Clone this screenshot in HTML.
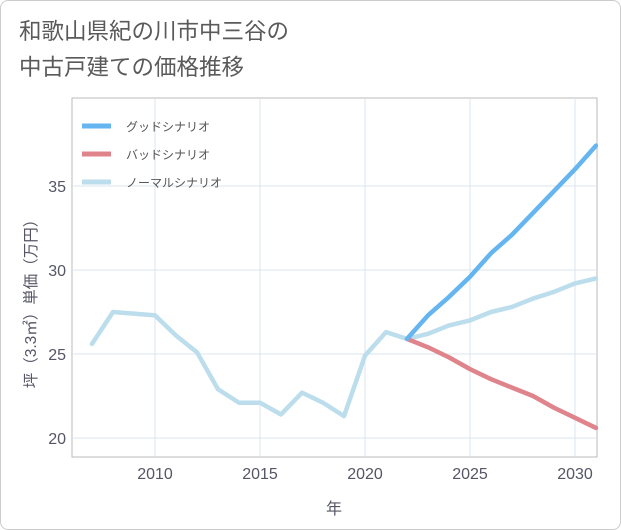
<!DOCTYPE html>
<html><head><meta charset="utf-8"><style>
body{margin:0;background:#fff;}
#wrap{position:relative;width:619px;height:528px;border:1px solid #ccc;border-radius:8px;background:#fff;overflow:hidden;font-family:"Liberation Sans","Noto Sans CJK JP",sans-serif;}
#title{position:absolute;left:18px;top:13px;font-size:22.5px;line-height:36px;color:#5a5a5a;}
svg text{font-family:"Liberation Sans","Noto Sans CJK JP",sans-serif;}
</style></head><body>
<div id="wrap">
<div id="title">和歌山県紀の川市中三谷の<br>中古戸建ての価格推移</div>
<svg id="chart" width="621" height="530" style="position:absolute;left:-1px;top:-1px"></svg>
</div>
<script>
const years=[2007,2008,2009,2010,2011,2012,2013,2014,2015,2016,2017,2018,2019,2020,2021,2022,2023,2024,2025,2026,2027,2028,2029,2030,2031];
const normal=[25.6,27.5,27.4,27.3,26.1,25.1,22.9,22.1,22.1,21.4,22.7,22.1,21.3,24.9,26.3,25.9,26.2,26.7,27.0,27.5,27.8,28.3,28.7,29.2,29.5];
const futureYears=[2022,2023,2024,2025,2026,2027,2028,2029,2030,2031];
const good=[25.9,27.3,28.4,29.6,31.0,32.1,33.4,34.7,36.0,37.4];
const bad=[25.9,25.4,24.8,24.1,23.5,23.0,22.5,21.8,21.2,20.6];
const xTicks=[2010,2015,2020,2025,2030];
const yTicks=[20,25,30,35];
const legendLabels=["グッドシナリオ","バッドシナリオ","ノーマルシナリオ"];
const legendColors=["#64b5f0","#e0848c","#bcdeec"];

const L=72,R=597,T=98,B=457;
const x=v=>155+(v-2010)*21;
const y=v=>438-(v-20)*16.8;
const svg=document.getElementById('chart');
const NS='http://www.w3.org/2000/svg';
function mk(tag,attrs){const e=document.createElementNS(NS,tag);for(const k in attrs)e.setAttribute(k,attrs[k]);svg.appendChild(e);return e;}
const frame=mk('rect',{x:L,y:T,width:R-L,height:B-T,fill:'none',stroke:'#bbb','stroke-width':1});


xTicks.forEach(t=>{
 const g=mk('line',{x1:x(t),x2:x(t),y1:T,y2:B,stroke:'#d8e4ee'});
 
 
 const tx=mk('text',{x:x(t),y:479,'text-anchor':'middle','font-size':16,fill:'#556'});tx.textContent=t;
 
 
});
yTicks.forEach(t=>{
 const g=mk('line',{x1:L,x2:R,y1:y(t),y2:y(t),stroke:'#d8e4ee'});
 
 
 const tx=mk('text',{x:66,y:y(t)+6,'text-anchor':'end','font-size':16,fill:'#556'});tx.textContent=t;
 
 
});
const xt=mk('text',{x:334,y:514,'text-anchor':'middle','font-size':16,fill:'#556'});xt.textContent='年';


const yt=mk('text',{x:0,y:0,'text-anchor':'middle','font-size':15.5,fill:'#556',transform:'translate(36,300) rotate(-90)'});yt.textContent='坪（3.3㎡）単価（万円）';


function line(xs,vs,color,name){
 const p=mk('polyline',{points:xs.map((v,i)=>x(v)+','+y(vs[i])).join(' '),fill:'none',stroke:color,'stroke-width':4.5,'stroke-linejoin':'round','stroke-linecap':'round'});
 
 
}
line(years,normal,legendColors[2],'normal-scenario-line');
line(futureYears,bad,legendColors[1],'bad-scenario-line');
line(futureYears,good,legendColors[0],'good-scenario-line');
const clip=mk('rect',{x:R+1,y:T,width:30,height:B-T,fill:'#fff'});
legendLabels.forEach((lab,i)=>{
 const ly=126+i*28;
 const s=mk('line',{x1:82,x2:111,y1:ly,y2:ly,stroke:legendColors[i],'stroke-width':5});
 
 
 const t=mk('text',{x:126,y:ly+5,'font-size':12,fill:'#555'});t.textContent=lab;
 
 
});
</script>
</body></html>
